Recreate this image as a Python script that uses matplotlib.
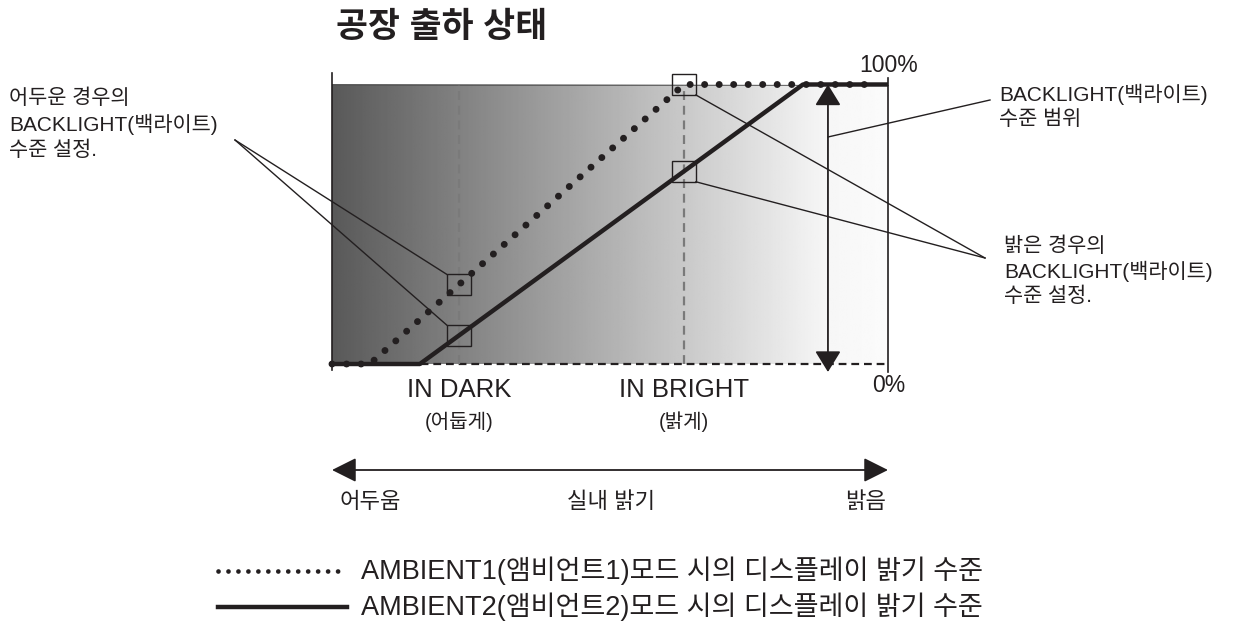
import numpy as np
import matplotlib.pyplot as plt
from matplotlib.patches import Rectangle

plt.rcParams['font.family'] = ['Liberation Sans', 'Noto Sans CJK KR']

# room brightness (0 = dark .. 100 = bright) against backlight level (%)
ambient1_x = [0, 6.8, 63.3, 98.0]
ambient1_y = [0, 0, 100, 100]
ambient2_x = [0, 15.8, 84.7, 100]
ambient2_y = [0, 0, 100, 100]

in_dark = 22.8
in_bright = 63.3
range_x = 89.2

title = '공장 출하 상태'
legend_labels = ['AMBIENT1(앰비언트1)모드 시의 디스플레이 밝기 수준',
                 'AMBIENT2(앰비언트2)모드 시의 디스플레이 밝기 수준']
dark_note = '어두운 경우의\nBACKLIGHT(백라이트)\n수준 설정.'
bright_note = '밝은 경우의\nBACKLIGHT(백라이트)\n수준 설정.'
range_note = 'BACKLIGHT(백라이트)\n수준 범위'

INK = '#231f20'


# pixel position in the picture -> data units
def px(x):
    return (x - 332) / 5.56


def py(y):
    return (364 - y) / 2.795


fig = plt.figure(figsize=(12.41, 6.34), dpi=100)
ax = fig.add_axes([0, 0, 1, 1])
ax.set_xlim(px(0), px(1241))
ax.set_ylim(py(634), py(0))
ax.axis('off')

# gray gradient background
cols = np.linspace(0, 100, 400)
shade = np.interp(cols, [0, 89, 100], [0.35, 0.965, 0.985])
ax.imshow(shade[None, :], cmap='gray', vmin=0, vmax=1, aspect='auto',
          extent=[0, 100, 0, 100], zorder=0)
ax.plot([0, 100], [100, 100], color='#555555', lw=0.6, zorder=1)

# frame lines
ax.plot([0, 0], [py(73), py(370)], color=INK, lw=1.2, zorder=2)
ax.plot([100, 100], [py(78), py(372)], color=INK, lw=1.2, zorder=2)
ax.plot([0, 100], [0, 0], color=INK, lw=1.6, linestyle=(0, (3.5, 2.2)), zorder=2)
for xv in [in_dark, in_bright]:
    ax.plot([xv, xv], [0, 100], color='#7a7a7a', lw=1.6,
            linestyle=(0, (4, 2.6)), zorder=2)

# curves
ax.plot(ambient2_x, ambient2_y, color=INK, lw=3.2, solid_capstyle='butt', zorder=3)
ax.plot(ambient1_x, ambient1_y, color=INK, lw=5, linestyle=(0, (0.01, 2.08)),
        dash_capstyle='round', zorder=4)

# small boxes at the set points
bw, bh = 4.3, 7.5
box_pts = [(in_dark, np.interp(in_dark, ambient1_x, ambient1_y)),
           (in_dark, np.interp(in_dark, ambient2_x, ambient2_y)),
           (in_bright, np.interp(in_bright, ambient1_x, ambient1_y)),
           (in_bright, np.interp(in_bright, ambient2_x, ambient2_y))]
for bx, by in box_pts:
    ax.add_patch(Rectangle((bx - bw / 2, by - bh / 2), bw, bh, fill=False,
                           ec=INK, lw=1.0, zorder=5))

# leader lines
for bx, by in box_pts[:2]:
    ax.plot([px(235), bx - bw / 2], [py(140), by + bh / 2], color=INK, lw=1.0, zorder=5)
for bx, by in box_pts[2:]:
    ax.plot([bx + bw / 2, px(985)], [by - bh / 2, py(258)], color=INK, lw=1.0, zorder=5)
ax.plot([range_x, px(990)], [py(137), py(100)], color=INK, lw=1.0, zorder=5)

# backlight range arrow
ax.annotate('', xy=(range_x, 100), xytext=(range_x, py(372)),
            arrowprops=dict(arrowstyle='<|-|>,head_length=1.3,head_width=0.8',
                            mutation_scale=10, lw=1.3, color=INK,
                            shrinkA=0, shrinkB=0), zorder=6)

# room brightness arrow
ax.annotate('', xy=(100, py(470)), xytext=(0, py(470)),
            arrowprops=dict(arrowstyle='<|-|>,head_length=1.5,head_width=0.75',
                            mutation_scale=10, lw=1.3, color=INK,
                            shrinkA=0, shrinkB=0))

# texts
ax.text(px(442), py(27), title, fontsize=25, fontweight='bold', color=INK,
        ha='center', va='center')
ax.text(px(889), py(66), '100%', fontsize=16.5, color=INK, ha='center', va='center')
ax.text(px(889), py(386), '0%', fontsize=16.5, color=INK, ha='center', va='center')
ax.text(in_dark, py(390), 'IN DARK', fontsize=18.5, color=INK, ha='center', va='center')
ax.text(in_bright, py(390), 'IN BRIGHT', fontsize=18.5, color=INK, ha='center', va='center')
ax.text(in_dark, py(422), '(어둡게)', fontsize=14.5, color=INK, ha='center', va='center')
ax.text(in_bright, py(422), '(밝게)', fontsize=14.5, color=INK, ha='center', va='center')
ax.text(px(370), py(503), '어두움', fontsize=16, color=INK, ha='center', va='center')
ax.text(px(611), py(503), '실내 밝기', fontsize=16, color=INK, ha='center', va='center')
ax.text(px(866), py(503), '밝음', fontsize=16, color=INK, ha='center', va='center')

ax.text(px(9), py(89), dark_note, fontsize=15, color=INK, ha='left', va='top',
        linespacing=1.33)
ax.text(px(999), py(84), range_note, fontsize=15, color=INK, ha='left', va='top',
        linespacing=1.3)
ax.text(px(1004), py(237), bright_note, fontsize=15, color=INK, ha='left', va='top',
        linespacing=1.27)

# legend
ax.plot([px(218), px(347)], [py(571), py(571)], color=INK, lw=3.4,
        linestyle=(0, (0.01, 2.1)), dash_capstyle='round')
ax.plot([px(218), px(347)], [py(607), py(607)], color=INK, lw=3.2)
ax.text(px(361), py(571), legend_labels[0], fontsize=19.5, color=INK, ha='left', va='center')
ax.text(px(361), py(607), legend_labels[1], fontsize=19.5, color=INK, ha='left', va='center')

fig.savefig('out.png', dpi=100)
